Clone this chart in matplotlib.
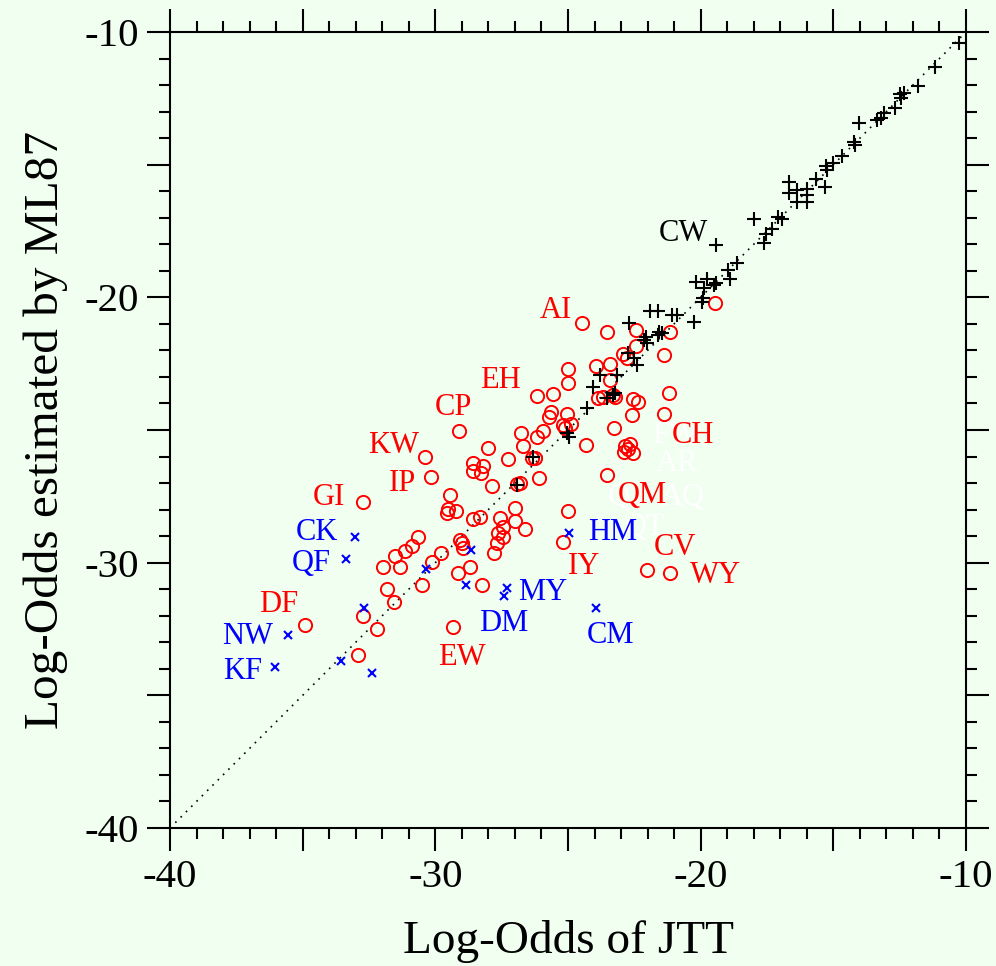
import matplotlib
matplotlib.use('Agg')
import matplotlib.pyplot as plt
from matplotlib.ticker import MultipleLocator

plt.rcParams['font.family'] = ['Liberation Serif', 'DejaVu Serif']
plt.rcParams['axes.unicode_minus'] = False

BG = '#f0fff0'

# black "+" points (JTT, ML87)
plus_x = [-10.25, -11.16, -11.82, -12.50, -12.35, -12.45, -12.67, -13.08, -13.35, -13.20,
          -14.02, -14.23, -14.18, -14.66, -15.00, -15.27, -15.25, -15.65, -15.31, -16.68,
          -16.68, -16.38, -15.98, -16.38, -16.00, -16.00, -17.99, -17.09, -16.94, -17.32,
          -17.53, -17.60, -19.43, -18.62, -18.98, -18.89, -20.18, -19.77, -19.87, -19.50,
          -19.42, -19.96, -19.90, -21.91, -21.59, -21.09, -20.90, -20.25, -22.69, -22.07,
          -22.13, -22.03, -21.56, -21.47, -21.60, -22.72, -22.53, -22.39, -23.79, -23.16,
          -24.04, -23.29, -23.23, -23.52, -24.30, -25.05, -24.98, -26.31, -26.93]
plus_y = [-10.40, -11.31, -12.04, -12.35, -12.30, -12.50, -12.88, -13.04, -13.30, -13.25,
          -13.44, -14.15, -14.25, -14.67, -14.95, -15.05, -15.20, -15.55, -15.83, -15.64,
          -16.08, -15.96, -15.93, -16.40, -16.40, -16.14, -17.06, -16.98, -17.06, -17.43,
          -17.61, -17.97, -18.03, -18.72, -18.97, -19.32, -19.41, -19.32, -19.66, -19.54,
          -19.47, -20.16, -20.04, -20.52, -20.52, -20.67, -20.67, -20.94, -20.98, -21.50,
          -21.60, -21.73, -21.30, -21.36, -21.42, -22.11, -22.30, -22.55, -22.93, -22.93,
          -23.39, -23.68, -23.62, -23.81, -24.18, -25.13, -25.25, -26.01, -27.07]

# red circle points
circ_x = [-24.48, -23.52, -22.45, -21.15, -19.46, -22.45, -22.91, -22.76, -21.37, -23.94,
          -23.41, -25.01, -25.01, -23.41, -26.18, -25.55, -23.86, -23.67, -23.29, -23.23,
          -22.54, -22.37, -21.19, -25.64, -25.70, -25.05, -22.60, -21.37, -25.18, -24.87,
          -25.11, -25.93, -23.26, -26.79, -26.18, -26.68, -24.32, -22.85, -22.66, -22.88,
          -22.54, -22.73, -29.10, -28.03, -27.25, -26.37, -26.24, -30.39, -30.16, -28.59,
          -28.19, -28.57, -28.29, -27.88, -26.93, -26.81, -26.09, -23.52, -32.72, -29.45,
          -29.51, -29.57, -29.23, -27.00, -24.99, -28.57, -28.32, -27.56, -27.00, -26.62,
          -27.44, -27.63, -27.44, -27.69, -27.79, -25.20, -30.67, -30.89, -31.14, -31.52,
          -31.96, -31.33, -29.07, -29.00, -28.94, -29.79, -30.14, -29.13, -28.69, -22.01,
          -21.15, -34.91, -32.74, -32.21, -32.93, -31.83, -31.56, -30.52, -29.35, -28.23]
circ_y = [-20.98, -21.30, -21.23, -21.30, -20.23, -21.84, -22.14, -22.30, -22.17, -22.58,
          -22.53, -22.71, -23.24, -23.12, -23.71, -23.64, -23.81, -23.75, -23.68, -23.75,
          -23.83, -23.94, -23.59, -24.33, -24.50, -24.41, -24.44, -24.41, -24.81, -24.78,
          -24.94, -25.03, -24.94, -25.13, -25.28, -25.59, -25.55, -25.59, -25.54, -25.82,
          -25.86, -25.73, -25.03, -25.66, -26.09, -26.07, -26.05, -26.03, -26.76, -26.23,
          -26.36, -26.54, -26.63, -27.10, -27.04, -27.01, -26.82, -26.70, -27.70, -27.45,
          -27.99, -28.14, -28.06, -27.93, -28.04, -28.37, -28.29, -28.33, -28.42, -28.74,
          -28.65, -28.87, -29.05, -29.27, -29.65, -29.21, -29.05, -29.36, -29.55, -29.75,
          -30.15, -30.18, -29.15, -29.27, -29.46, -29.65, -29.97, -30.40, -30.15, -30.28,
          -30.38, -32.35, -32.01, -32.50, -33.48, -31.01, -31.50, -30.84, -32.44, -30.84]

# blue "x" points
cross_x = [-33.03, -33.38, -35.54, -36.04, -32.68, -33.57, -32.40, -30.35, -28.67, -28.84,
           -27.31, -27.40, -24.96, -23.94]
cross_y = [-29.02, -29.88, -32.73, -33.92, -31.69, -33.71, -34.17, -30.24, -29.53, -30.84,
           -30.97, -31.26, -28.90, -31.69]

# point labels: text, x, y, colour
lab_text = ['FW', 'AR', 'AQ', 'Q', 'QT',
            'CW', 'AI', 'EH', 'CP', 'KW', 'IP', 'GI', 'DF', 'EW', 'IY', 'QM', 'CH', 'CV', 'WY',
            'CK', 'QF', 'NW', 'KF', 'DM', 'MY', 'CM', 'HM']
lab_x = [-20.97, -20.89, -20.66, -23.08, -22.10,
         -20.66, -25.45, -27.56, -29.33, -31.59, -31.25, -34.01, -35.89, -28.99, -24.40,
         -22.21, -20.29, -20.96, -19.46,
         -34.46, -34.69, -37.06, -37.25, -27.41, -25.94, -23.41, -23.30]
lab_y = [-25.19, -26.25, -27.56, -27.56, -28.66,
         -17.58, -20.48, -23.12, -24.17, -25.60, -27.00, -27.53, -31.56, -33.56, -30.13,
         -27.45, -25.19, -29.41, -30.50,
         -28.85, -30.02, -32.80, -34.12, -32.31, -31.11, -32.73, -28.85]
lab_color = ['white'] * 5 + ['black'] + ['red'] * 13 + ['blue'] * 8

fig = plt.figure(figsize=(9.96, 9.66), dpi=100, facecolor=BG)
ax = fig.add_axes([170 / 996, 1 - 828 / 966, 796 / 996, 796 / 966])
ax.set_facecolor(BG)

ax.plot([-40, -10], [-40, -10], color='black', ls=(0, (1, 3.5)), lw=1.2, zorder=1)

ax.plot(circ_x, circ_y, ls='none', marker='o', ms=9.5, mfc='none', mec='red', mew=1.4, zorder=2)
ax.plot(plus_x, plus_y, ls='none', marker='+', ms=10, mec='black', mew=1.5, zorder=3)
ax.plot(cross_x, cross_y, ls='none', marker='x', ms=6, mec='blue', mew=1.5, zorder=3)

for t, x, y, c in zip(lab_text, lab_x, lab_y, lab_color):
    ax.text(x, y, t, color=c, fontsize=22, ha='center', va='center', zorder=4)

ax.set_xlim(-40, -10)
ax.set_ylim(-40, -10)
for a in (ax.xaxis, ax.yaxis):
    a.set_major_locator(MultipleLocator(5))
    a.set_minor_locator(MultipleLocator(1))
ax.set_xticks([-40, -35, -30, -25, -20, -15, -10])
ax.set_xticklabels(['-40', '', '-30', '', '-20', '', '-10'])
ax.set_yticks([-40, -35, -30, -25, -20, -15, -10])
ax.set_yticklabels(['-40', '', '-30', '', '-20', '', '-10'])

ax.tick_params(which='both', direction='out', top=True, right=True, width=1.5,
               labelsize=29.5, color='black')
ax.tick_params(which='major', length=16.5, pad=6)
ax.tick_params(which='minor', length=8)
for s in ax.spines.values():
    s.set_linewidth(1.5)

ax.set_xlabel('Log-Odds of JTT', fontsize=34, labelpad=17)
ax.set_ylabel('Log-Odds estimated by ML87', fontsize=35.5, labelpad=12)

fig.savefig('out.png', dpi=100, facecolor=BG)
